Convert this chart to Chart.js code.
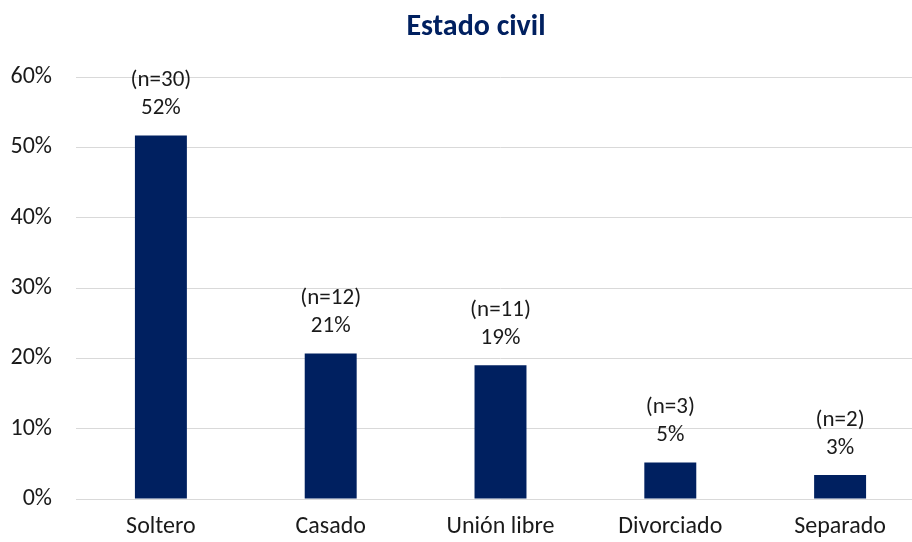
<!DOCTYPE html>
<html>
<head>
<meta charset="utf-8">
<script src="https://cdn.jsdelivr.net/npm/chart.js@4.4.1/dist/chart.umd.min.js"></script>
<style>
html,body{margin:0;padding:0;background:#fff;overflow:hidden;}
#wrap{width:912px;height:542px;overflow:hidden;position:relative;}
#box{width:952px;height:542px;position:absolute;left:0;top:0;}
</style>
</head>
<body>
<div id="wrap"><div id="box"><canvas id="c" width="952" height="542"></canvas></div></div>
<script>
const titleText = "Estado civil";
const categories = ["Soltero", "Casado", "Unión libre", "Divorciado", "Separado"];
const percentValues = [51.7, 20.7, 19.0, 5.2, 3.4];
const counts = [30, 12, 11, 3, 2];
const percentLabels = ["52%", "21%", "19%", "5%", "3%"];
const yTicks = [0, 10, 20, 30, 40, 50, 60];

const FONT = "Carlito, Lato, 'Liberation Sans', sans-serif";
const NAVY = "#002060";

const labelPlugin = {
  id: 'barLabels',
  afterDatasetsDraw(chart) {
    const ctx = chart.ctx;
    const meta = chart.getDatasetMeta(0);
    ctx.save();
    ctx.font = "23px " + FONT;
    ctx.fillStyle = "#1a1a1a";
    ctx.textAlign = "center";
    ctx.textBaseline = "middle";
    meta.data.forEach((bar, i) => {
      ctx.fillText("(n=" + counts[i] + ")", bar.x, bar.y - 55);
      ctx.fillText(percentLabels[i], bar.x, bar.y - 27);
    });
    // title
    ctx.font = "bold 30px " + FONT;
    ctx.fillStyle = NAVY;
    ctx.fillText(titleText, chart.width / 2, 27);
    ctx.restore();
  }
};

new Chart(document.getElementById('c'), {
  type: 'bar',
  data: {
    labels: categories,
    datasets: [{
      data: percentValues,
      backgroundColor: NAVY,
      borderWidth: 0,
      barPercentage: 0.306,
      categoryPercentage: 1
    }]
  },
  options: {
    responsive: false,
    animation: false,
    devicePixelRatio: 1,
    layout: { padding: { left: 0, right: 27, top: 77, bottom: 0 } },
    plugins: {
      legend: { display: false },
      tooltip: { enabled: false },
      title: { display: false }
    },
    scales: {
      x: {
        grid: { display: false, drawTicks: false },
        border: { display: false },
        ticks: { color: "#1a1a1a", font: { family: FONT, size: 24 }, padding: 14 },
        afterFit(scale) { scale.height = 43; }
      },
      y: {
        min: 0, max: 60,
        afterBuildTicks(scale) { scale.ticks = yTicks.map(v => ({ value: v })); },
        grid: { color: "#d9d9d9", lineWidth: 1, drawTicks: false },
        border: { display: false },
        ticks: {
          color: "#1a1a1a",
          font: { family: FONT, size: 24 },
          padding: 24,
          callback: v => v + "%"
        },
        afterFit(scale) { scale.width = 76; }
      }
    }
  },
  plugins: [labelPlugin]
});
</script>
</body>
</html>
